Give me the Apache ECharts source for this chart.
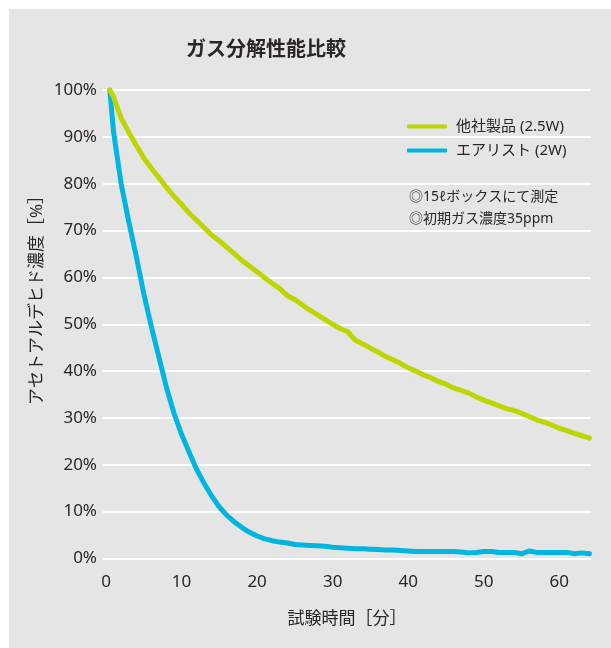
<!DOCTYPE html>
<html>
<head>
<meta charset="utf-8">
<script src="https://cdn.jsdelivr.net/npm/echarts@6/dist/echarts.min.js"></script>
<style>
html,body{margin:0;padding:0;background:#fff;}
#chart{width:611px;height:648px;}
</style>
</head>
<body>
<div id="chart"></div>
<script>
var chartTitle = 'ガス分解性能比較';
var seriesNames = ['他社製品 (2.5W)', 'エアリスト (2W)'];
var xTickLabels = [0, 10, 20, 30, 40, 50, 60];
var yTickLabels = [0, 10, 20, 30, 40, 50, 60, 70, 80, 90, 100];
var notes = ['◎15ℓボックスにて測定', '◎初期ガス濃度35ppm'];
var xAxisName = '試験時間［分］';
var yAxisName = 'アセトアルデヒド濃度［%］';

var minutes = [0.5, 1, 2, 3, 4, 5, 6, 7, 8, 9, 10, 11, 12, 13, 14, 15, 16, 17, 18, 19, 20,
  21, 22, 23, 24, 25, 26, 27, 28, 29, 30, 31, 32, 33, 34, 35, 36, 37, 38, 39, 40,
  41, 42, 43, 44, 45, 46, 47, 48, 49, 50, 51, 52, 53, 54, 55, 56, 57, 58, 59, 60,
  61, 62, 63, 64];

var otherProduct = [100, 98.5, 94, 91, 88.2, 85.5, 83.3, 81.3, 79.2, 77.3, 75.6,
  73.7, 72.2, 70.6, 69, 67.8, 66.4, 65.0, 63.6, 62.4, 61.2,
  59.9, 58.7, 57.6, 56.1, 55.3, 54.1, 53, 52, 51, 50,
  49.1, 48.4, 46.6, 45.8, 44.9, 44.1, 43.1, 42.4, 41.6, 40.7,
  40.0, 39.2, 38.6, 37.8, 37.2, 36.4, 35.9, 35.3, 34.5, 33.8,
  33.2, 32.6, 32.0, 31.6, 31.0, 30.3, 29.6, 29.1, 28.5, 27.8,
  27.3, 26.7, 26.2, 25.7];

var airist = [100, 91, 80, 72, 64.5, 56.5, 49.5, 43, 36.5, 31, 26.5,
  22.7, 19, 16, 13.3, 11, 9.2, 7.8, 6.6, 5.6, 4.8,
  4.2, 3.8, 3.5, 3.3, 3.0, 2.9, 2.8, 2.7, 2.6, 2.4,
  2.3, 2.2, 2.1, 2.1, 2.0, 1.9, 1.8, 1.8, 1.7, 1.6,
  1.5, 1.5, 1.5, 1.5, 1.5, 1.5, 1.4, 1.2, 1.3, 1.5,
  1.5, 1.3, 1.3, 1.3, 1.0, 1.6, 1.3, 1.3, 1.3, 1.3,
  1.3, 1.0, 1.2, 1.0];

var greenColor = '#bdd500';
var blueColor = '#00b5df';
var textColor = '#2b2523';
var fontFam = '"Noto Sans", "Noto Sans CJK JP", sans-serif';

function pairs(xs, ys) { return xs.map(function (x, i) { return [x, ys[i]]; }); }

var chart = echarts.init(document.getElementById('chart'), null, {renderer: 'canvas'});
chart.setOption({
  backgroundColor: '#ffffff',
  animation: false,
  textStyle: {fontFamily: fontFam, color: textColor},
  graphic: [
    {type: 'rect', z: -10, shape: {x: 9, y: 9, width: 602, height: 639}, style: {fill: '#e5e5e5'}},
    {type: 'text', x: 186, y: 50, style: {text: chartTitle, font: 'bold 20px ' + fontFam, fill: textColor, verticalAlign: 'middle', align: 'left'}},
    {type: 'text', x: 37, y: 296, rotation: Math.PI / 2, style: {text: yAxisName, font: '17px ' + fontFam, fill: textColor, align: 'center', verticalAlign: 'middle'}},
    {type: 'text', x: 409, y: 197, style: {text: notes[0], font: '14px ' + fontFam, fill: textColor, verticalAlign: 'middle'}},
    {type: 'text', x: 409, y: 219, style: {text: notes[1], font: '14px ' + fontFam, fill: textColor, verticalAlign: 'middle'}}
  ],
  legend: {
    data: [seriesNames[0], seriesNames[1]],
    orient: 'vertical',
    left: 402,
    top: 114,
    itemWidth: 40,
    itemHeight: 4,
    itemGap: 9,
    icon: 'roundRect',
    textStyle: {fontSize: 15, color: textColor, fontFamily: fontFam, padding: [0, 0, 0, 4]}
  },
  grid: {left: 103, right: 20, top: 90, bottom: 89.5, containLabel: false},
  xAxis: {
    type: 'value',
    min: -0.4,
    max: 64.2,
    axisLine: {show: false},
    axisTick: {show: false},
    splitLine: {show: false},
    axisLabel: {customValues: xTickLabels, fontSize: 17, color: textColor, margin: 15, fontFamily: fontFam},
    name: xAxisName,
    nameLocation: 'middle',
    nameGap: 52,
    nameTextStyle: {fontSize: 17, color: textColor, fontFamily: fontFam}
  },
  yAxis: {
    type: 'value',
    min: 0,
    max: 100,
    interval: 10,
    axisLine: {show: false},
    axisTick: {show: false},
    splitLine: {lineStyle: {color: '#ffffff', width: 2}},
    axisLabel: {fontSize: 17, color: textColor, margin: 6, fontFamily: fontFam, formatter: '{value}%'}
  },
  series: [
    {
      name: seriesNames[1], type: 'line', data: pairs(minutes, airist),
      showSymbol: false, symbol: 'none', color: blueColor,
      lineStyle: {width: 5, color: blueColor, cap: 'round', join: 'round'}, z: 2
    },
    {
      name: seriesNames[0], type: 'line', data: pairs(minutes, otherProduct),
      showSymbol: false, symbol: 'none', color: greenColor,
      lineStyle: {width: 5, color: greenColor, cap: 'round', join: 'round'}, z: 3
    }
  ]
});
</script>
</body>
</html>
